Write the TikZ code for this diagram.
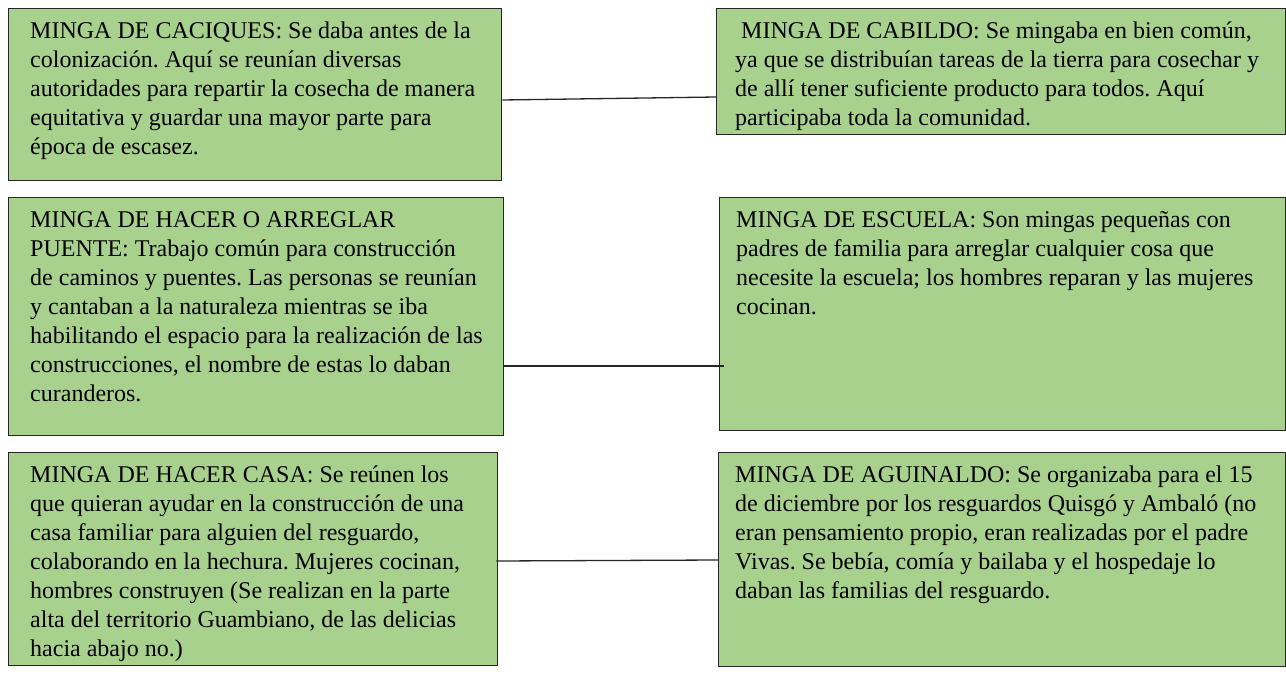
\documentclass[tikz,border=0pt]{standalone}
\usepackage{fontspec}
\setmainfont{Liberation Serif}
\usetikzlibrary{calc}
\definecolor{boxgreen}{HTML}{A9D18E}
\tikzset{
  box/.style={draw=black!85, line width=1.3pt, fill=boxgreen, rectangle, inner sep=0pt, anchor=north west},
  txt/.style={anchor=base west, inner sep=0pt, font=\fontsize{24}{29}\selectfont},
  conn/.style={draw=black!85, line width=1.3pt}
}
\newcommand{\boxtext}[1]{\parbox[t]{620pt}{\raggedright\frenchspacing #1}}
\begin{document}
\begin{tikzpicture}[x=1pt,y=-1pt]
\useasboundingbox (0,0) rectangle (1286,696);
% boxes
\node[box, minimum width=493pt, minimum height=172pt] (b1) at (8,8) {};
\node[box, minimum width=569pt, minimum height=126pt] (b4) at (716,8) {};
\node[box, minimum width=495pt, minimum height=238pt] (b2) at (8,197) {};
\node[box, minimum width=566pt, minimum height=233pt] (b5) at (719,197) {};
\node[box, minimum width=489pt, minimum height=213pt] (b3) at (8,452) {};
\node[box, minimum width=567pt, minimum height=214pt] (b6) at (718,452) {};
% texts
\node[txt] (t1) at ($(b1.north west)+(22,30)$) {\boxtext{MINGA DE CACIQUES: Se daba antes de la\\
colonización. Aquí se reunían diversas\\
autoridades para repartir la cosecha de manera\\
equitativa y guardar una mayor parte para\\
época de escasez.}};
\node[txt] (t4) at ($(b4.north west)+(19,30)$) {\boxtext{\hspace*{6pt}MINGA DE CABILDO: Se mingaba en bien común,\\
ya que se distribuían tareas de la tierra para cosechar y\\
de allí tener suficiente producto para todos. Aquí\\
participaba toda la comunidad.}};
\node[txt] (t2) at ($(b2.north west)+(22,30)$) {\boxtext{MINGA DE HACER O ARREGLAR\\
PUENTE: Trabajo común para construcción\\
de caminos y puentes. Las personas se reunían\\
y cantaban a la naturaleza mientras se iba\\
habilitando el espacio para la realización de las\\
construcciones, el nombre de estas lo daban\\
curanderos.}};
\node[txt] (t5) at ($(b5.north west)+(17,30)$) {\boxtext{MINGA DE ESCUELA: Son mingas pequeñas con\\
padres de familia para arreglar cualquier cosa que\\
necesite la escuela; los hombres reparan y las mujeres\\
cocinan.}};
\node[txt] (t3) at ($(b3.north west)+(22,30)$) {\boxtext{MINGA DE HACER CASA: Se reúnen los\\
que quieran ayudar en la construcción de una\\
casa familiar para alguien del resguardo,\\
colaborando en la hechura. Mujeres cocinan,\\
hombres construyen (Se realizan en la parte\\
alta del territorio Guambiano, de las delicias\\
hacia abajo no.)}};
\node[txt] (t6) at ($(b6.north west)+(17,30)$) {\boxtext{MINGA DE AGUINALDO: Se organizaba para el 15\\
de diciembre por los resguardos Quisgó y Ambaló (no\\
eran pensamiento propio, eran realizadas por el padre\\
Vivas. Se bebía, comía y bailaba y el hospedaje lo\\
daban las familias del resguardo.}};
% connectors
\coordinate (c2end) at ($(b5.north west)+(5,169)$);
\draw[conn] ($(b1.north east)+(0,92)$) -- ($(b4.north west)+(0,89)$);
\draw[conn] ($(b2.north east)+(0,169)$) -- (c2end);
\draw[conn] ($(b3.north east)+(-2,109)$) -- ($(b6.north west)+(0,108)$);
\end{tikzpicture}
\end{document}
